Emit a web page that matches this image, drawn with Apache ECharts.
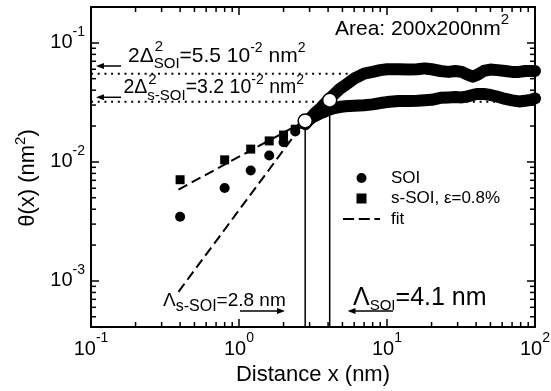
<!DOCTYPE html>
<html><head><meta charset="utf-8">
<script src="https://cdn.jsdelivr.net/npm/echarts@6/dist/echarts.min.js"></script>
<style>html,body{margin:0;padding:0;background:#fff}#c{width:551px;height:391px}</style>
</head><body><div id="c"></div>
<script>
const FONT = '"Liberation Sans", Arial, Helvetica, sans-serif';

// tick labels (powers of ten)
const xTickExp = [-1, 0, 1, 2];
const yTickExp = [-3, -2, -1];
const xRange = [0.1, 100];
const yRange = [4.1e-4, 0.2];

// SOI data (circles)
const soiX = [0.4, 0.8, 1.2, 1.6, 2.0, 2.4, 2.8, 3.2, 3.6, 4.0, 4.4, 4.8, 5.2, 5.6, 6.0, 7, 8, 9, 10, 12, 14, 16, 18, 20, 23, 26, 29, 32, 35, 38, 41, 45, 50, 56, 63, 70, 78, 86, 94, 100];
const soiY = [0.00346, 0.00604, 0.00846, 0.0113, 0.0146, 0.0180, 0.0207, 0.0251, 0.0287, 0.033, 0.037, 0.041, 0.044, 0.047, 0.050, 0.055, 0.057, 0.059, 0.060, 0.060, 0.0596, 0.060, 0.061, 0.060, 0.058, 0.057, 0.058, 0.057, 0.054, 0.052, 0.054, 0.058, 0.0596, 0.059, 0.058, 0.057, 0.057, 0.058, 0.058, 0.058];

// strained SOI data (squares)
const ssoiX = [0.4, 0.8, 1.2, 1.6, 2.0, 2.4, 2.8, 3.2, 3.6, 4.0, 4.4, 4.8, 5.2, 5.6, 6.0, 7, 8, 9, 10, 12, 14, 16, 18, 20, 23, 26, 29, 32, 35, 38, 41, 45, 50, 56, 63, 70, 78, 86, 94, 100];
const ssoiY = [0.00708, 0.0104, 0.0128, 0.0150, 0.0168, 0.0188, 0.0215, 0.0240, 0.0258, 0.0272, 0.0283, 0.0289, 0.0293, 0.0295, 0.0296, 0.0299, 0.0304, 0.0312, 0.0318, 0.0324, 0.0324, 0.0326, 0.0329, 0.0332, 0.0345, 0.0348, 0.0350, 0.0348, 0.0355, 0.0365, 0.0372, 0.0372, 0.0365, 0.0352, 0.0338, 0.0329, 0.0322, 0.0326, 0.0332, 0.0341];

// power-law fits
const fitSoiX = [0.39, 2.8];
const fitSoiY = [0.00081, 0.0221];
const fitSsoiX = [0.39, 2.8];
const fitSsoiY = [0.00585, 0.0221];

// saturation levels 2Δ² and correlation lengths Λ
const plateauY = [0.055, 0.032];
const lambdaX = [2.8, 4.1];
const lambdaY = [0.0221, 0.033];

const pts = (xs, ys) => xs.map((x, i) => [x, ys[i]]);
const bandStart = 2.8;

function powLabel(exps) {
  return function (v) {
    const l = Math.log10(v), e = Math.round(l);
    if (Math.abs(l - e) > 1e-6 || exps.indexOf(e) < 0) return '';
    return '{b|10}{s|' + e + '}';
  };
}
const tickRich = {
  b: {fontSize: 20, lineHeight: 36, fontFamily: FONT, color: '#000'},
  s: {fontSize: 14, lineHeight: 13, verticalAlign: 'top', fontFamily: FONT, color: '#000'}
};

// minor ticks (2..9 per decade)
const minor = [];
for (let d = -1; d < 2; d++) for (let m = 2; m <= 9; m++) minor.push([m * Math.pow(10, d), 0.01, 0]);
for (let d = -4; d < 0; d++) for (let m = 2; m <= 9; m++) {
  const v = m * Math.pow(10, d);
  if (v > yRange[0] && v < yRange[1]) minor.push([1, v, 1]);
}

const axisLine = {show: true, lineStyle: {color: '#000', width: 2}};
const axisTick = {show: true, inside: true, length: 8, lineStyle: {color: '#000', width: 1.5}};

function xAx(pos, showLabel) {
  return {
    type: 'log', logBase: 10, min: xRange[0], max: xRange[1], position: pos,
    axisLine, axisTick, splitLine: {show: false}, minorTick: {show: false},
    axisLabel: {show: showLabel, formatter: powLabel(xTickExp), rich: tickRich, margin: 4},
    name: showLabel ? 'Distance x (nm)' : '', nameLocation: 'middle', nameGap: 35,
    nameTextStyle: {fontSize: 22, fontFamily: FONT, color: '#000'}
  };
}
function yAx(pos, showLabel) {
  return {
    type: 'log', logBase: 10, min: yRange[0], max: yRange[1], position: pos,
    axisLine, axisTick, splitLine: {show: false}, minorTick: {show: false},
    axisLabel: {show: showLabel, formatter: powLabel(yTickExp), rich: tickRich, margin: 6}
  };
}

const ctx = document.createElement('canvas').getContext('2d');
function tw(t, size) { ctx.font = size + 'px "Liberation Sans"'; return ctx.measureText(t).width; }

function arrow(x1, y1, x2, y2) {
  const dir = Math.sign(x2 - x1);
  return [
    {type: 'line', shape: {x1, y1, x2: x2 - dir * 3, y2}, style: {stroke: '#000', lineWidth: 1.5}},
    {type: 'polygon', shape: {points: [[x2, y2], [x2 - dir * 8, y2 - 3], [x2 - dir * 8, y2 + 3]]}, style: {fill: '#000'}}
  ];
}
function rtext(x, y, text, size, rich, extra) {
  return {
    type: 'text', x, y,
    style: Object.assign({text, fontSize: size, fontFamily: FONT, fill: '#000', verticalAlign: 'middle', align: 'left', rich}, extra || {})
  };
}
const sup = (fs, lh) => ({fontSize: fs, lineHeight: lh, verticalAlign: 'top', fontFamily: FONT, fill: '#000', color: '#000'});
const sub = (fs, lh) => ({fontSize: fs, lineHeight: lh, verticalAlign: 'bottom', fontFamily: FONT, fill: '#000', color: '#000'});

const l1x = 128, l2x = 123.5;
const graphics = [
  rtext(335, 29, 'Area: 200x200nm{p|2}', 21, {p: sup(15, 14)}, {lineHeight: 34}),
  rtext(l1x, 56, '2Δ{b|SOI}=5.5 10{p|-2} nm{p|2}', 21, {p: sup(14, 14), b: sub(15, 18)}, {lineHeight: 30}),
  {type: 'text', x: l1x + tw('2Δ', 21) + 1, y: 47, style: {text: '2', fontSize: 15, fontFamily: FONT, fill: '#000', verticalAlign: 'middle'}},
  rtext(l2x, 88, '2Δ{b|s-SOI}=3.2 10{p|-2} nm{p|2}', 19.5, {p: sup(14, 14), b: sub(15, 18)}, {lineHeight: 30}),
  {type: 'text', x: l2x + tw('2Δ', 19.5) + 1, y: 80, style: {text: '2', fontSize: 15, fontFamily: FONT, fill: '#000', verticalAlign: 'middle'}},
  rtext(163, 301, 'Λ{b|s-SOI}=2.8 nm', 19, {b: sub(16, 18)}, {lineHeight: 28}),
  rtext(353, 298, 'Λ{b|SOI}=4.1 nm', 25, {b: sub(15, 18)}, {lineHeight: 30}),
  {type: 'text', x: 28, y: 178, rotation: Math.PI / 2,
   style: {text: 'θ(x) (nm{p|2})', fontSize: 22, fontFamily: FONT, fill: '#000', align: 'center', verticalAlign: 'middle', lineHeight: 30,
           rich: {p: sup(15, 14)}}}
].concat(arrow(121, 66, 96, 66), arrow(121, 97.3, 96, 97.3), arrow(240, 311, 285, 311), arrow(393, 311, 347.5, 311));

const black = '#000';
const solid = {color: black, opacity: 1};
const series = [
  // dotted saturation levels
  ...plateauY.map(v => ({type: 'line', data: [[xRange[0], v], [xRange[1], v]], symbol: 'none', silent: true,
    lineStyle: {color: black, width: 2, type: [2, 4.7], opacity: 1}, z: 1})),
  // vertical correlation-length lines
  ...lambdaX.map((x, i) => ({type: 'line', data: [[x, yRange[0]], [x, lambdaY[i]]], symbol: 'none', silent: true,
    lineStyle: {color: black, width: 1.5, opacity: 1}, z: 2})),
  // fits
  {name: 'fit', type: 'line', data: pts(fitSoiX, fitSoiY), symbol: 'none', lineStyle: {color: black, width: 2, type: [10, 5], opacity: 1}, itemStyle: solid, z: 3},
  {name: 'fit', type: 'line', data: pts(fitSsoiX, fitSsoiY), symbol: 'none', lineStyle: {color: black, width: 2, type: [10, 5], opacity: 1}, itemStyle: solid, z: 3},
  // dense bands
  {type: 'line', data: pts(soiX, soiY).filter(p => p[0] >= bandStart), symbol: 'none',
   lineStyle: {color: black, width: 12, cap: 'round', join: 'round', opacity: 1}, z: 4},
  {type: 'line', data: pts(ssoiX, ssoiY).filter(p => p[0] >= bandStart), symbol: 'none',
   lineStyle: {color: black, width: 12, cap: 'round', join: 'round', opacity: 1}, z: 4},
  // markers
  {name: 'SOI', type: 'scatter', data: pts(soiX, soiY), symbol: 'circle', symbolSize: 10, itemStyle: solid, z: 5},
  {name: 's-SOI, ε=0.8%', type: 'scatter', data: pts(ssoiX, ssoiY), symbol: 'rect', symbolSize: 9, itemStyle: solid, z: 5},
  // open circles at Λ
  {type: 'scatter', data: pts(lambdaX, lambdaY), symbol: 'circle', symbolSize: 14,
   itemStyle: {color: '#fff', borderColor: black, borderWidth: 1.5, opacity: 1}, z: 6},
  // minor ticks
  {type: 'custom', data: minor, silent: true, clip: false, z: 7,
   renderItem(params, api) {
     const cs = params.coordSys, L = 5, st = {stroke: black, lineWidth: 1.5};
     if (api.value(2) === 0) {
       const p = api.coord([api.value(0), 0.01]);
       return {type: 'group', children: [
         {type: 'line', shape: {x1: p[0], y1: cs.y + cs.height, x2: p[0], y2: cs.y + cs.height - L}, style: st},
         {type: 'line', shape: {x1: p[0], y1: cs.y, x2: p[0], y2: cs.y + L}, style: st}]};
     }
     const p = api.coord([1, api.value(1)]);
     return {type: 'group', children: [
       {type: 'line', shape: {x1: cs.x, y1: p[1], x2: cs.x + L, y2: p[1]}, style: st},
       {type: 'line', shape: {x1: cs.x + cs.width, y1: p[1], x2: cs.x + cs.width - L, y2: p[1]}, style: st}]};
   }}
];

const chart = echarts.init(document.getElementById('c'), null, {renderer: 'canvas'});
chart.setOption({
  animation: false,
  backgroundColor: '#fff',
  grid: {left: 91, right: 16, top: 7, bottom: 64, containLabel: false, outerBoundsMode: 'none'},
  xAxis: [xAx('bottom', true), xAx('top', false)],
  yAxis: [yAx('left', true), yAx('right', false)],
  legend: {
    orient: 'vertical', left: 343, top: 168, itemWidth: 37, itemHeight: 10, itemGap: 0.5, padding: 0,
    symbolKeepAspect: true,
    textStyle: {fontSize: 17, fontFamily: FONT, color: black, lineHeight: 20, padding: [0, 0, 0, 6]},
    itemStyle: {opacity: 1},
    data: [
      {name: 'SOI', icon: 'circle', itemStyle: {color: black, opacity: 1}},
      {name: 's-SOI, ε=0.8%', icon: 'path://M0,0h10v10h-10z', itemStyle: {color: black, opacity: 1}},
      {name: 'fit', icon: 'path://M0,0h12v2h-12zM17,0h12v2h-12zM34,0h6v2h-6z', itemStyle: {color: black, opacity: 1}}
    ],
    selectedMode: false
  },
  graphic: graphics,
  series
});
</script>
</body></html>
